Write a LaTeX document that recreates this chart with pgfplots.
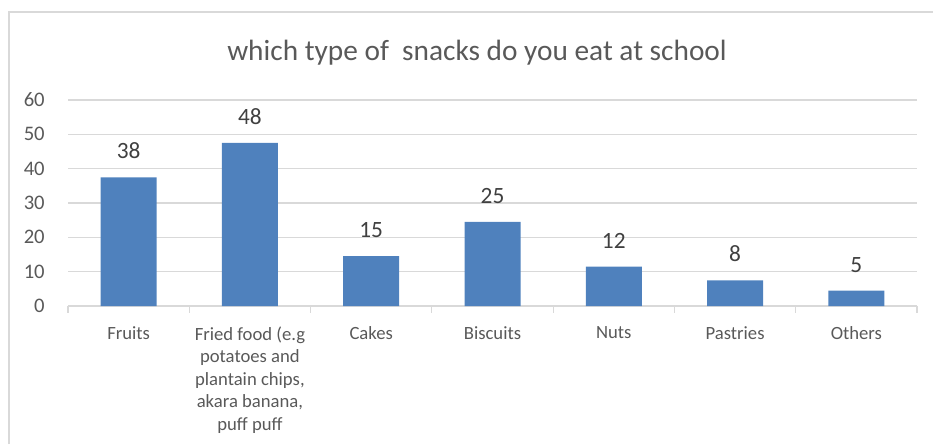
\documentclass[border=0pt]{standalone}
\usepackage{pgfplots}
\pgfplotsset{compat=1.18}
\usepackage{fontspec}
\setmainfont{Carlito}
\definecolor{barblue}{HTML}{4F81BD}
\definecolor{gridgray}{HTML}{D9D9D9}
\definecolor{txtgray}{HTML}{595959}
\definecolor{lblgray}{HTML}{404040}
\begin{document}
\begin{tikzpicture}
\path[use as bounding box] (0pt,0pt) rectangle (699.75pt,-333pt);
\draw[gridgray, line width=1.2pt] (6.75pt,-333pt) -- (6.75pt,-9pt) -- (699.75pt,-9pt);
\node[anchor=base, text=txtgray, font=\fontsize{22}{26}\selectfont, inner sep=0pt] at (357.75pt,-45pt) {which type of\ \ snacks do you eat at school};
\begin{axis}[
  at={(51pt,-229.5pt)}, anchor=south west,
  scale only axis, width=636.75pt, height=154.5pt,
  xmin=-0.5, xmax=6.5, ymin=0, ymax=60,
  ytick={0,10,...,60},
  xtick={0,...,6},
  minor xtick={-0.5,0.5,...,6.5},
  xticklabels={Fruits, {Fried food (e.g\\potatoes and\\plantain chips,\\akara banana,\\puff puff}, Cakes, Biscuits, Nuts, Pastries, Others},
  /pgf/number format/assume math mode=true,
  axis y line*=left,
  axis x line*=bottom,
  y axis line style={draw=none},
  x axis line style={gridgray, line width=0.9pt, -},
  ymajorgrids, major grid style={gridgray, line width=0.9pt},
  major x tick style={draw=none},
  major y tick style={draw=none},
  minor x tick style={gridgray, line width=0.9pt},
  minor tick length=5pt,
  tick align=outside,
  tick label style={text=txtgray, font=\fontsize{14}{16.9}\selectfont},
  xticklabel style={align=center, anchor=north, inner sep=0pt, yshift=-11pt},
  yticklabel style={anchor=east, inner sep=0pt, xshift=-13pt, font=\fontsize{15.5}{18}\selectfont},
  ybar, bar width=42pt,
  nodes near coords={\pgfplotspointmeta},
  point meta=explicit symbolic,
  every node near coord/.append style={anchor=south, inner sep=0pt, yshift=13.5pt, text=lblgray, font=\fontsize{17.5}{20}\selectfont},
  clip=false,
]
\addplot[fill=barblue, draw=none] coordinates {
  (0,37.5) [38]
  (1,47.5) [48]
  (2,14.5) [15]
  (3,24.5) [25]
  (4,11.5) [12]
  (5,7.5) [8]
  (6,4.5) [5]
};
\end{axis}
\end{tikzpicture}
\end{document}
